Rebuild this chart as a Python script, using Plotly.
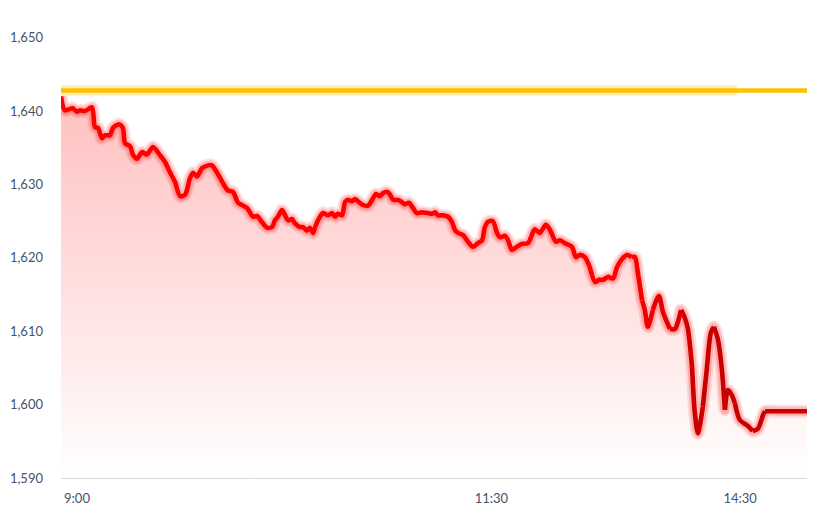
import plotly.graph_objects as go

# minutes since 9:00 (trading minutes, lunch break removed)
minutes = [0, 1.4, 3.3, 4.3, 5.8, 6.9, 8.7, 11.2, 12.3, 13.4, 14.8, 15.9, 17.7, 18.8, 21.0, 22.4,
           23.2, 25.0, 26.1, 27.5, 29.3, 31.1, 33.3, 35.8, 37.6, 39.4, 41.3, 43.1, 44.9, 46.7, 47.8,
           49.2, 51.0, 53.2, 54.6, 56.5, 58.6, 60.4, 62.2, 64.1, 65.5, 67.3, 68.4, 69.5, 70.9, 72.7,
           74.6, 76.4, 77.4, 78.5, 80.0, 81.1, 82.2, 83.6, 84.7, 86.5, 87.6, 89.0, 90.1, 91.2, 91.9,
           93.0, 94.8, 96.6, 98.1, 99.2, 100.2, 101.7, 102.8, 103.9, 105.3, 106.4, 107.5, 109.3,
           111.1, 112.6, 114.0, 115.4, 116.5, 118.0, 119.1, 120.2, 122.0, 123.4, 124.5, 125.9, 127.4,
           128.8, 130.6, 132.5, 134.3, 135.4, 136.4, 138.2, 140.1, 141.5, 142.6, 143.7, 145.5, 147.3,
           149.1, 150.9, 152.4, 153.4, 154.5, 156.3, 157.8, 158.9, 160.7, 161.8, 163.2, 165.0, 166.8,
           169.0, 171.5, 173.3, 175.5, 177.0, 179.1, 180.6, 182.4, 184.9, 186.4, 187.8, 189.6, 191.1,
           193.3, 194.7, 196.1, 198.0, 199.8, 201.2, 203.0, 204.8, 206.6, 207.7, 208.8, 210.3, 211.3,
           212.4, 214.2, 216.4, 217.9, 220.4, 222.2, 223.3, 224.4, 225.8, 226.9, 228.4, 229.4, 230.5,
           232.3, 233.8, 235.2, 236.3, 237.8, 239.2, 240.3, 241.4, 242.8, 243.9, 245.7, 248.3, 250.4,
           252.2, 254.1, 254.8, 260.2, 265.6, 270.0]

prices = [1642.0, 1640.1, 1640.3, 1640.4, 1639.9, 1640.1, 1640.0, 1640.5, 1637.8, 1637.7, 1636.3,
          1636.7, 1636.7, 1637.7, 1638.2, 1637.7, 1635.6, 1635.2, 1634.0, 1633.5, 1634.4, 1634.1,
          1635.1, 1634.0, 1633.1, 1631.7, 1630.3, 1628.4, 1628.6, 1630.9, 1631.6, 1631.1, 1632.2,
          1632.6, 1632.6, 1631.6, 1630.2, 1629.2, 1629.0, 1627.5, 1627.2, 1626.8, 1626.2, 1625.6,
          1625.7, 1624.9, 1624.1, 1624.2, 1625.1, 1625.6, 1626.5, 1625.8, 1625.1, 1625.3, 1624.7,
          1624.2, 1624.2, 1623.7, 1624.1, 1623.4, 1624.1, 1625.1, 1626.1, 1625.8, 1626.1, 1625.6,
          1626.0, 1625.8, 1627.6, 1627.9, 1627.7, 1628.0, 1627.7, 1627.2, 1627.1, 1627.9, 1628.7,
          1628.4, 1628.8, 1629.0, 1628.6, 1627.9, 1627.9, 1627.6, 1627.3, 1627.5, 1626.8, 1626.1,
          1626.2, 1626.1, 1626.0, 1626.2, 1625.8, 1625.8, 1625.6, 1624.9, 1623.8, 1623.4, 1623.1,
          1622.2, 1621.5, 1622.0, 1622.4, 1624.2, 1624.9, 1625.0, 1623.4, 1622.8, 1623.0, 1622.4,
          1621.1, 1621.5, 1621.9, 1622.0, 1623.9, 1623.4, 1624.5, 1623.8, 1622.2, 1622.4, 1622.0,
          1621.5, 1620.1, 1620.4, 1620.1, 1619.0, 1616.7, 1617.0, 1617.0, 1617.4, 1617.2, 1618.7,
          1619.8, 1620.4, 1620.1, 1620.1, 1617.9, 1614.2, 1612.9, 1610.6, 1612.9, 1614.8, 1612.6,
          1610.3, 1610.3, 1611.3, 1612.9, 1611.8, 1610.3, 1605.1, 1598.9, 1596.1, 1599.7, 1605.1,
          1609.8, 1610.6, 1608.8, 1604.7, 1599.3, 1602.0, 1601.3, 1600.2, 1597.9, 1597.2, 1596.4,
          1596.7, 1598.6, 1599.1, 1599.1, 1599.1, 1599.1]

prev_close = 1642.8
prev_glow_end = 244.6
tick_vals = [0, 150, 240]
tick_text = ["9:00", "11:30", "14:30"]
y_ticks = [1590, 1600, 1610, 1620, 1630, 1640, 1650]

FONT = "Lato"
TXT = "#44546A"
SMOOTH = 0.8
LW = 4.6

fig = go.Figure()

# gradient fill under the price line
fig.add_trace(go.Scatter(
    x=minutes, y=prices, mode="lines", line=dict(width=0, shape="spline", smoothing=SMOOTH),
    fill="tozeroy",
    fillgradient=dict(type="vertical", start=1590, stop=1642,
                      colorscale=[[0, "rgb(255,255,255)"], [1, "rgb(255,192,192)"]]),
    hoverinfo="skip", showlegend=False))

# previous close reference line (with glow)
fig.add_trace(go.Scatter(x=[0, prev_glow_end], y=[prev_close, prev_close], mode="lines",
                         line=dict(color="rgba(255,192,0,0.3)", width=10),
                         hoverinfo="skip", showlegend=False))
fig.add_trace(go.Scatter(x=[0, minutes[-1]], y=[prev_close, prev_close], mode="lines",
                         line=dict(color="#FFC000", width=4.5),
                         hoverinfo="skip", showlegend=False))

# glow under price line
fig.add_trace(go.Scatter(x=minutes, y=prices, mode="lines",
                         line=dict(color="rgba(255,0,0,0.12)", width=13, shape="spline", smoothing=SMOOTH),
                         hoverinfo="skip", showlegend=False))
fig.add_trace(go.Scatter(x=minutes, y=prices, mode="lines",
                         line=dict(color="rgba(255,0,0,0.18)", width=9, shape="spline", smoothing=SMOOTH),
                         hoverinfo="skip", showlegend=False))


def line_color(m):
    a, b = 205.0, 232.0
    c0, c1 = (255, 0, 0), (200, 0, 0)
    if m <= a:
        t = 0.0
    elif m >= b:
        t = 1.0
    else:
        t = (m - a) / (b - a)
    r, g, bl = [round(c0[k] + (c1[k] - c0[k]) * t) for k in range(3)]
    return f"rgb({r},{g},{bl})"


k0 = next(i for i, m in enumerate(minutes) if m >= 205)
fig.add_trace(go.Scatter(x=minutes[:k0 + 1], y=prices[:k0 + 1], mode="lines",
                         line=dict(color="#FF0000", width=LW, shape="spline", smoothing=SMOOTH),
                         showlegend=False))
i = k0
while i < len(minutes) - 1:
    j = min(i + 3, len(minutes) - 1)
    mid = (minutes[i] + minutes[j]) / 2
    fig.add_trace(go.Scatter(x=minutes[i:j + 1], y=prices[i:j + 1], mode="lines",
                             line=dict(color=line_color(mid), width=LW, shape="spline", smoothing=SMOOTH),
                             showlegend=False))
    i = j

# page body has an 8px default margin, so the figure is 820x501 to fill the 828x509 window
fig.update_layout(
    width=820, height=501,
    margin=dict(l=53, r=21, t=15, b=31),
    paper_bgcolor="white", plot_bgcolor="white",
    font=dict(family=FONT, size=13, color=TXT),
    showlegend=False,
    xaxis=dict(range=[0, 270], tickvals=tick_vals, ticktext=tick_text, showgrid=False,
               zeroline=False, showline=True, linecolor="#D9D9D9", linewidth=1,
               ticks="", ticklabelshift=16, ticklabelstandoff=8, automargin=False),
    yaxis=dict(range=[1590, 1652], tickvals=y_ticks, tickformat=",", showgrid=False,
               zeroline=False, showline=False, ticks="", ticklabelstandoff=17, automargin=False),
)

fig.write_html("out.html")
